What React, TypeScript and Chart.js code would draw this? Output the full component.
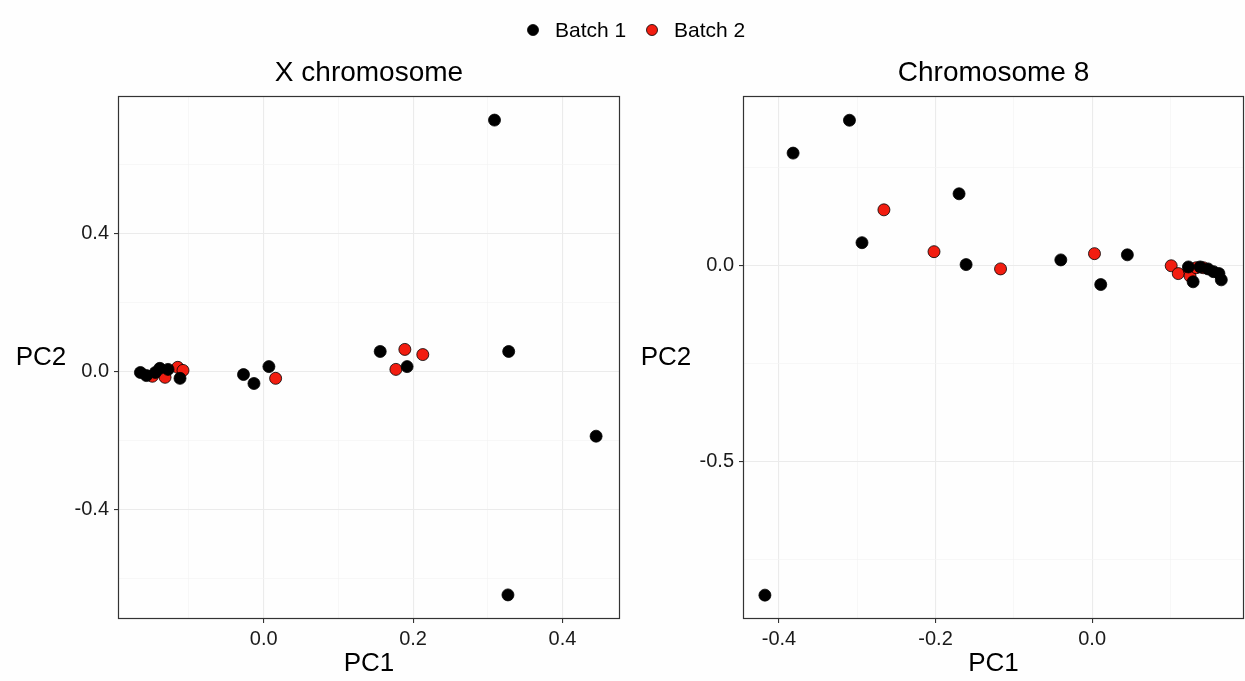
import React, { useEffect, useRef } from 'react';
import { Chart, registerables } from 'chart.js';

Chart.register(...registerables);

const PAGE_W = 1245;
const PAGE_H = 681;
const CANVAS_W = 1300;
const FONT = '"Liberation Sans", Arial, Helvetica, sans-serif';

// ---- Legend ----
const SERIES_NAMES = ['Batch 1', 'Batch 2'];
const SERIES_COLORS = ['#000000', '#F21D10'];

// ---- Panel 1: X chromosome ----
const X_TITLE = 'X chromosome';
const X_B1_PC1 = [0.309, 0.328, 0.445, 0.327, 0.156, 0.192, 0.007, -0.027, -0.013, -0.165, -0.157, -0.145, -0.139, -0.128, -0.112];
const X_B1_PC2 = [0.730, 0.058, -0.188, -0.649, 0.058, 0.014, 0.014, -0.009, -0.035, -0.003, -0.012, -0.003, 0.009, 0.006, -0.020];
const X_B2_PC1 = [0.016, 0.189, 0.213, 0.177, -0.149, -0.133, -0.132, -0.115, -0.108];
const X_B2_PC2 = [-0.020, 0.064, 0.049, 0.006, -0.014, -0.006, -0.017, 0.012, 0.003];
const X_PC1_RANGE = [-0.195, 0.477];
const X_PC2_RANGE = [-0.719, 0.80];
const X_PC1_MAJOR = [0, 0.2, 0.4];
const X_PC1_MINOR = [-0.1, 0.1, 0.3];
const X_PC2_MAJOR = [-0.4, 0, 0.4];
const X_PC2_MINOR = [-0.6, -0.2, 0.2, 0.6];

// ---- Panel 2: Chromosome 8 ----
const C8_TITLE = 'Chromosome 8';
const C8_B1_PC1 = [-0.418, -0.382, -0.310, -0.294, -0.170, -0.161, -0.040, 0.011, 0.045, 0.123, 0.129, 0.138, 0.148, 0.155, 0.162, 0.165];
const C8_B1_PC2 = [-0.842, 0.288, 0.372, 0.059, 0.184, 0.003, 0.015, -0.048, 0.028, -0.003, -0.041, -0.003, -0.008, -0.015, -0.020, -0.036];
const C8_B2_PC1 = [-0.266, -0.202, -0.117, 0.003, 0.101, 0.110, 0.124, 0.125, 0.133, 0.142];
const C8_B2_PC2 = [0.143, 0.036, -0.008, 0.031, 0.000, -0.020, -0.010, -0.026, -0.005, -0.005];
const C8_PC1_RANGE = [-0.446, 0.194];
const C8_PC2_RANGE = [-0.903, 0.434];
const C8_PC1_MAJOR = [-0.4, -0.2, 0];
const C8_PC1_MINOR = [-0.3, -0.1, 0.1];
const C8_PC2_MAJOR = [-0.5, 0];
const C8_PC2_MINOR = [-0.75, -0.25, 0.25];

const X_AXIS_LABEL = 'PC1';
const Y_AXIS_LABEL = 'PC2';

type Area = { left: number; right: number; top: number; bottom: number };

const Y_AXIS_W = 60;
const X_AXIS_H = 60;

const near = (arr: number[], v: number) => arr.some((m) => Math.abs(m - v) < 1e-6);

function pts(xs: number[], ys: number[]) {
  return xs.map((x, i) => ({ x, y: ys[i] }));
}

function makeScale(range: number[], major: number[], minor: number[], isX: boolean) {
  const all = [...major, ...minor].sort((a, b) => a - b);
  const scale: any = {
    type: 'linear',
    min: range[0],
    max: range[1],
    afterBuildTicks: (s: any) => {
      s.ticks = all.map((v) => ({ value: v }));
    },
    afterFit: (s: any) => {
      if (isX) s.height = X_AXIS_H;
      else s.width = Y_AXIS_W;
    },
    border: { display: false },
    grid: {
      color: (c: any) => (c.tick && near(major, c.tick.value) ? '#EBEBEB' : '#F3F3F3'),
      lineWidth: (c: any) => (c.tick && near(major, c.tick.value) ? 1.1 : 0.7),
      tickColor: (c: any) => (c.tick && near(major, c.tick.value) ? '#333333' : 'rgba(0,0,0,0)'),
      tickLength: 4,
      tickWidth: 1.1,
      drawTicks: true,
    },
    ticks: {
      autoSkip: false,
      maxRotation: 0,
      padding: isX ? 4 : 5,
      color: '#1A1A1A',
      font: { family: FONT, size: 20 },
      callback: (v: number) => (near(major, v) ? (Math.abs(v) < 1e-9 ? '0.0' : v.toFixed(1)) : ''),
    },
  };
  if (isX) {
    scale.title = {
      display: true,
      text: X_AXIS_LABEL,
      color: '#000',
      font: { family: FONT, size: 26 },
      padding: { top: 0, bottom: 0 },
    };
  }
  return scale;
}

function decorPlugin(title: string, drawLegend: boolean) {
  return {
    id: 'decor_' + title.replace(/\s/g, '_'),
    afterDraw(chart: any) {
      const { ctx, chartArea: a } = chart;
      ctx.save();
      // panel border
      ctx.strokeStyle = '#333333';
      ctx.lineWidth = 1.2;
      ctx.strokeRect(a.left + 0.5, a.top + 0.5, a.right - a.left - 1, a.bottom - a.top - 1);
      // title
      ctx.fillStyle = '#000';
      ctx.textAlign = 'center';
      ctx.textBaseline = 'middle';
      ctx.font = `28px ${FONT}`;
      ctx.fillText(title, (a.left + a.right) / 2, 73);
      // horizontal y-axis title
      ctx.font = `26px ${FONT}`;
      ctx.fillText(Y_AXIS_LABEL, a.left - 77, (a.top + a.bottom) / 2);
      // legend
      if (drawLegend) {
        const items = [
          { cx: 533, tx: 555 },
          { cx: 652, tx: 674 },
        ];
        ctx.font = `21px ${FONT}`;
        ctx.textAlign = 'left';
        items.forEach((it, i) => {
          ctx.beginPath();
          ctx.arc(it.cx, 30, 5.5, 0, Math.PI * 2);
          ctx.fillStyle = SERIES_COLORS[i];
          ctx.fill();
          ctx.lineWidth = 0.8;
          ctx.strokeStyle = '#000';
          ctx.stroke();
          ctx.fillStyle = '#000';
          ctx.fillText(SERIES_NAMES[i], it.tx, 31);
        });
      }
      ctx.restore();
    },
  };
}

function buildChart(
  canvas: HTMLCanvasElement,
  area: Area,
  title: string,
  b1: { x: number; y: number }[],
  b2: { x: number; y: number }[],
  xr: number[], xMaj: number[], xMin: number[],
  yr: number[], yMaj: number[], yMin: number[],
  drawLegend: boolean,
) {
  const padding = {
    left: area.left - Y_AXIS_W,
    right: CANVAS_W - area.right,
    top: area.top,
    bottom: PAGE_H - area.bottom - X_AXIS_H,
  };
  const chart = new Chart(canvas, {
    type: 'scatter',
    data: {
      datasets: [
        {
          label: SERIES_NAMES[0],
          data: b1,
          backgroundColor: SERIES_COLORS[0],
          borderColor: '#000',
          borderWidth: 0.8,
          pointRadius: 6,
          pointHoverRadius: 6,
        },
        {
          label: SERIES_NAMES[1],
          data: b2,
          backgroundColor: SERIES_COLORS[1],
          borderColor: '#000',
          borderWidth: 0.8,
          pointRadius: 6,
          pointHoverRadius: 6,
        },
      ],
    },
    options: {
      responsive: false,
      animation: false,
      devicePixelRatio: 1,
      events: [],
      layout: { padding },
      plugins: {
        legend: { display: false },
        title: { display: false },
        tooltip: { enabled: false },
      },
      scales: {
        x: makeScale(xr, xMaj, xMin, true),
        y: makeScale(yr, yMaj, yMin, false),
      },
    } as any,
    plugins: [decorPlugin(title, drawLegend)],
  });
  // nudge layout padding so the plot panel lands exactly on the target area
  for (let i = 0; i < 3; i++) {
    const ca = chart.chartArea;
    const dl = area.left - ca.left;
    const dr = ca.right - area.right;
    const dt = area.top - ca.top;
    const db = ca.bottom - area.bottom;
    if (Math.abs(dl) + Math.abs(dr) + Math.abs(dt) + Math.abs(db) < 0.5) break;
    const p = (chart.config.options as any).layout.padding;
    p.left += dl;
    p.right += dr;
    p.top += dt;
    p.bottom += db;
    chart.update();
  }
  return chart;
}

export default function App() {
  const leftRef = useRef<HTMLCanvasElement>(null);
  const rightRef = useRef<HTMLCanvasElement>(null);

  useEffect(() => {
    Chart.defaults.font.family = FONT;
    const c1 = buildChart(
      leftRef.current!,
      { left: 118, right: 620, top: 96, bottom: 619 },
      X_TITLE,
      pts(X_B1_PC1, X_B1_PC2),
      pts(X_B2_PC1, X_B2_PC2),
      X_PC1_RANGE, X_PC1_MAJOR, X_PC1_MINOR,
      X_PC2_RANGE, X_PC2_MAJOR, X_PC2_MINOR,
      true,
    );
    const c2 = buildChart(
      rightRef.current!,
      { left: 743, right: 1244, top: 96, bottom: 619 },
      C8_TITLE,
      pts(C8_B1_PC1, C8_B1_PC2),
      pts(C8_B2_PC1, C8_B2_PC2),
      C8_PC1_RANGE, C8_PC1_MAJOR, C8_PC1_MINOR,
      C8_PC2_RANGE, C8_PC2_MAJOR, C8_PC2_MINOR,
      false,
    );
    return () => {
      c1.destroy();
      c2.destroy();
    };
  }, []);

  const canvasStyle: React.CSSProperties = {
    position: 'absolute',
    left: 0,
    top: 0,
    width: CANVAS_W,
    height: PAGE_H,
  };

  return (
    <div
      style={{
        position: 'fixed',
        left: 0,
        top: 0,
        width: PAGE_W,
        height: PAGE_H,
        background: '#FEFEFE',
        overflow: 'hidden',
      }}
    >
      <canvas ref={leftRef} width={CANVAS_W} height={PAGE_H} style={canvasStyle} />
      <canvas ref={rightRef} width={CANVAS_W} height={PAGE_H} style={canvasStyle} />
    </div>
  );
}
